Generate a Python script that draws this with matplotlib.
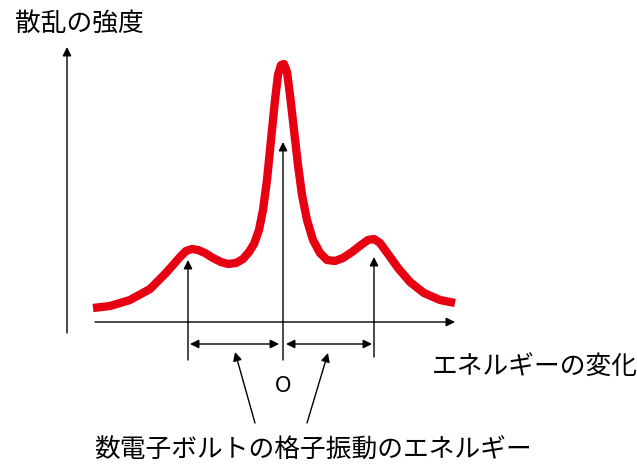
import matplotlib
matplotlib.use("Agg")
import matplotlib.pyplot as plt

plt.rcParams['font.family'] = ['Noto Sans CJK JP', 'DejaVu Sans']

# schematic spectrum: energy change (0 = elastic peak) vs scattering intensity
energy = [-190, -173, -153, -133, -118, -110, -103, -97, -91, -85, -78, -70,
          -62, -55, -47, -40, -34, -29, -24, -20, -16, -12, -8, -5, -2, 1, 4,
          7, 11, 15, 19, 24, 30, 37, 44, 52, 60, 69, 78, 85, 91, 97, 105, 115,
          127, 141, 157, 172]
intensity = [14, 16, 22, 33, 48, 57, 65, 71, 73, 72, 69, 64, 60, 58, 59, 63,
             70, 78, 92, 112, 142, 182, 222, 247, 257, 258, 250, 227, 192, 157,
             127, 102, 82, 69, 62, 61, 64, 70, 77, 82, 83, 79, 68, 54, 40, 29,
             22, 19]

phonon_energy = [-95, 91]
phonon_height = [62, 65]
center_height = 180

title_y = '散乱の強度'
title_x = 'エネルギーの変化'
caption = '数電子ボルトの格子振動のエネルギー'

fig = plt.figure(figsize=(6.37, 4.65), dpi=100)
ax = fig.add_axes([0, 0, 1, 1])
ax.set_xlim(-283, 354)
ax.set_ylim(-143, 322)
ax.axis('off')

ax.plot(energy, intensity, color='#e60012', linewidth=6,
        solid_capstyle='butt', solid_joinstyle='round')

arr = dict(arrowstyle='-|>', color='black', lw=1.0, mutation_scale=13,
           shrinkA=0, shrinkB=0)
dbl = dict(arrowstyle='<|-|>', color='black', lw=1.0, mutation_scale=13,
           shrinkA=0, shrinkB=0)

# axes
ax.annotate('', xy=(-216, 275), xytext=(-216, -11), arrowprops=arr)
ax.annotate('', xy=(172, 0), xytext=(-188, 0), arrowprops=arr)

# vertical markers
ax.annotate('', xy=(phonon_energy[0], phonon_height[0]), xytext=(phonon_energy[0], -38),
            arrowprops=arr)
ax.annotate('', xy=(0, center_height), xytext=(0, -38), arrowprops=arr)
ax.annotate('', xy=(phonon_energy[1], phonon_height[1]), xytext=(phonon_energy[1], -35),
            arrowprops=arr)

# phonon energy spans
ax.annotate('', xy=(-4, -22), xytext=(phonon_energy[0] + 2, -22), arrowprops=dbl)
ax.annotate('', xy=(phonon_energy[1] - 2, -22), xytext=(3, -22), arrowprops=dbl)

# pointers from caption
ax.annotate('', xy=(-48, -30), xytext=(-28, -101), arrowprops=arr)
ax.annotate('', xy=(45, -31), xytext=(24, -101), arrowprops=arr)

ax.text(0, -64, 'O', fontsize=15, ha='center', va='center', family='DejaVu Sans')
ax.text(-268, 298, title_y, fontsize=18.5, ha='left', va='center')
ax.text(149, -46, title_x, fontsize=18.5, ha='left', va='center')
ax.text(30, -129, caption, fontsize=18.5, ha='center', va='center')

fig.savefig('out.png', dpi=100)
